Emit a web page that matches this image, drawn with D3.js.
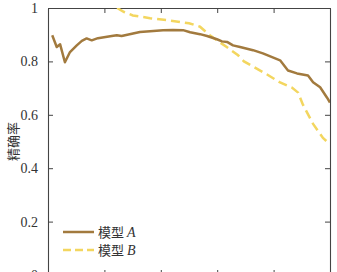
<!DOCTYPE html>
<html>
<head>
<meta charset="utf-8">
<script src="https://cdn.jsdelivr.net/npm/d3@7"></script>
<style>
  body { margin: 0; background: #fff; }
  svg text { font-family: "Liberation Serif", serif; fill: #333; }
  svg .cjk { font-family: "Noto Sans CJK SC", sans-serif; }
</style>
</head>
<body>
<div id="chart"></div>
<script>
var svgWidth = 337;
var svgHeight = 272;

var margin = { top: 8, right: 7, bottom: -3, left: 48 };
var width = svgWidth - margin.left - margin.right;
var height = svgHeight - margin.top - margin.bottom;

// series (x = recall-like axis 0..1)
var seriesNames = ["模型 A", "模型 B"];
var seriesLetters = ["A", "B"];
var xA = [0.015, 0.031, 0.043, 0.060, 0.078, 0.102, 0.120, 0.137, 0.155, 0.177, 0.226, 0.244, 0.261,
  0.326, 0.362, 0.408, 0.443, 0.479, 0.504, 0.539, 0.564, 0.599, 0.617, 0.635, 0.656, 0.681,
  0.727, 0.762, 0.823, 0.851, 0.883, 0.922, 0.940, 0.965, 0.989, 1.0];
var yA = [0.898, 0.854, 0.864, 0.797, 0.835, 0.860, 0.877, 0.886, 0.879, 0.887, 0.895, 0.898, 0.895,
  0.910, 0.913, 0.917, 0.918, 0.917, 0.909, 0.902, 0.895, 0.883, 0.875, 0.873, 0.860, 0.854,
  0.842, 0.830, 0.804, 0.766, 0.755, 0.747, 0.722, 0.703, 0.665, 0.646];
var xB = [0.245, 0.270, 0.301, 0.362, 0.419, 0.500, 0.539, 0.574, 0.599, 0.635, 0.674, 0.695,
  0.727, 0.777, 0.823, 0.865, 0.887, 0.904, 0.940, 0.975, 1.0];
var yB = [1.0, 0.985, 0.972, 0.962, 0.955, 0.943, 0.930, 0.898, 0.879, 0.853, 0.823, 0.800,
  0.781, 0.751, 0.721, 0.702, 0.683, 0.638, 0.566, 0.513, 0.490];
var xTicks = [0, 0.2, 0.4, 0.6, 0.8, 1];
var yTicks = [0, 0.2, 0.4, 0.6, 0.8, 1];
var yLabel = "精确率";

var colors = ["#a27a3e", "#f3d65f"];

var svg = d3.select("#chart")
  .append("svg")
  .attr("width", svgWidth)
  .attr("height", svgHeight);

var chartGroup = svg.append("g")
  .attr("transform", `translate(${margin.left}, ${margin.top})`);

var xScale = d3.scaleLinear().domain([0, 1]).range([0, width]);
var yScale = d3.scaleLinear().domain([0, 1]).range([height, 0]);

// clip so lines stay in the box
chartGroup.append("clipPath").attr("id", "clip")
  .append("rect").attr("width", width).attr("height", height);

// axes: ticks point inward on all four sides
var tickLen = 5;
var leftAxis = d3.axisLeft(yScale).tickValues(yTicks).tickSizeInner(-tickLen).tickSizeOuter(0)
  .tickPadding(tickLen + 5).tickFormat(d3.format("~g"));
var rightAxis = d3.axisRight(yScale).tickValues(yTicks).tickSizeInner(-tickLen).tickSizeOuter(0).tickFormat("");
var topAxis = d3.axisTop(xScale).tickValues(xTicks).tickSizeInner(-tickLen).tickSizeOuter(0).tickFormat("");
var bottomAxis = d3.axisBottom(xScale).tickValues(xTicks).tickSizeInner(-tickLen).tickSizeOuter(0)
  .tickPadding(tickLen + 5).tickFormat(d3.format("~g"));

var gLeft = chartGroup.append("g").call(leftAxis);
var gRight = chartGroup.append("g").attr("transform", `translate(${width}, 0)`).call(rightAxis);
var gTop = chartGroup.append("g").call(topAxis);
var gBottom = chartGroup.append("g").attr("transform", `translate(0, ${height})`).call(bottomAxis);

[gLeft, gRight, gTop, gBottom].forEach(g => {
  g.attr("font-family", null);
  g.select(".domain").attr("stroke", "#444").attr("stroke-width", 1.1);
  g.selectAll(".tick line").attr("stroke", "#444");
  g.selectAll("text").attr("font-size", "14px").attr("fill", "#444");
});

var line = d3.line()
  .x(d => xScale(d[0]))
  .y(d => yScale(d[1]));

var dataA = xA.map((x, i) => [x, yA[i]]);
var dataB = xB.map((x, i) => [x, yB[i]]);

chartGroup.append("path")
  .datum(dataB)
  .attr("clip-path", "url(#clip)")
  .attr("fill", "none")
  .attr("stroke", colors[1])
  .attr("stroke-width", 2.5)
  .attr("stroke-dasharray", "9,5")
  .attr("d", line);

chartGroup.append("path")
  .datum(dataA)
  .attr("clip-path", "url(#clip)")
  .attr("fill", "none")
  .attr("stroke", colors[0])
  .attr("stroke-width", 2.5)
  .attr("stroke-linejoin", "round")
  .attr("d", line);

// y axis label
svg.append("text")
  .attr("class", "cjk")
  .attr("transform", `translate(18, ${margin.top + height / 2}) rotate(-90)`)
  .attr("text-anchor", "middle")
  .attr("font-size", "13px")
  .attr("fill", "#333")
  .text(yLabel);

// legend
var legend = chartGroup.append("g").attr("transform", "translate(15, 224)");
seriesNames.forEach((name, i) => {
  var row = legend.append("g").attr("transform", `translate(0, ${i * 18})`);
  row.append("line")
    .attr("x1", 0).attr("x2", 31).attr("y1", 0).attr("y2", 0)
    .attr("stroke", colors[i])
    .attr("stroke-width", 2.5)
    .attr("stroke-dasharray", i === 1 ? "8,4" : null);
  var t = row.append("text").attr("x", 35).attr("y", 5).attr("font-size", "14px").attr("fill", "#333");
  t.append("tspan").attr("class", "cjk").attr("font-size", "13px").text(name.split(" ")[0] + " ");
  t.append("tspan").attr("font-style", "italic").text(seriesLetters[i]);
});
</script>
</body>
</html>
